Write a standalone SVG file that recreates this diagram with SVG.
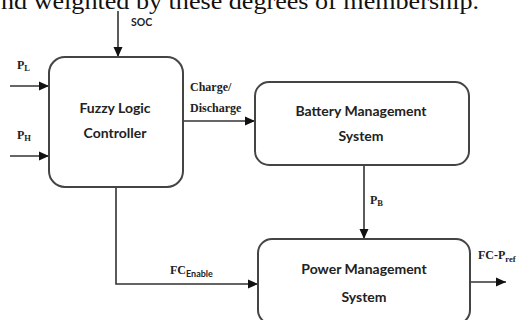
<svg xmlns="http://www.w3.org/2000/svg" width="517" height="320" viewBox="0 0 517 320">
<defs>
<marker id="ah" markerUnits="userSpaceOnUse" markerWidth="10" markerHeight="10" viewBox="0 0 10 10" refX="10" refY="5" orient="auto">
<path d="M0,0.5 L10,5 L0,9.5 Z" fill="#111"/>
</marker>
<style>
.box{fill:#fff;stroke:#444;stroke-width:2}
.con{fill:none;stroke:#333;stroke-width:1.6;marker-end:url(#ah)}
.lbl{font-family:Lato,"Liberation Sans",sans-serif;font-weight:bold;font-size:14px;fill:#222;text-anchor:middle}
.sig{font-family:"Liberation Serif",serif;font-weight:bold;font-size:12px;fill:#222}
.sub{font-family:"Liberation Serif",serif;font-weight:bold;font-size:8.5px;fill:#222}
.subs{font-family:Lato,"Liberation Sans",sans-serif;font-weight:bold;font-size:9px;fill:#222}
.top{font-family:"Liberation Serif",serif;font-size:23px;fill:#111}
</style>
</defs>
<rect width="517" height="320" fill="#fff"/>
<text class="top" x="1" y="9" textLength="478" lengthAdjust="spacingAndGlyphs">nd weighted by these degrees of membership.</text>
<g id="connectors">
<line class="con" x1="118" y1="11" x2="118" y2="57"/>
<line class="con" x1="10" y1="86" x2="49" y2="86"/>
<line class="con" x1="10" y1="156" x2="49" y2="156"/>
<line class="con" x1="183" y1="121" x2="255" y2="121"/>
<line class="con" x1="364" y1="165" x2="364" y2="239"/>
<path class="con" d="M116,187 V284 H258"/>
<line class="con" x1="470" y1="282" x2="506" y2="282"/>
</g>
<g id="labels">
<text x="131" y="26" style="font-family:Lato,'Liberation Sans',sans-serif;font-weight:bold;font-size:10.5px;fill:#222">SOC</text>
<text class="sig" x="17" y="69">P<tspan class="sub" dy="2">L</tspan></text>
<text class="sig" x="17" y="139">P<tspan class="sub" dy="2">H</tspan></text>
<text class="sig" x="190" y="91">Charge/</text>
<text class="sig" x="190" y="112">Discharge</text>
<text class="sig" x="370" y="204">P<tspan class="sub" dy="2">B</tspan></text>
<text class="sig" x="170" y="274">FC<tspan class="subs" dy="3">Enable</tspan></text>
<text class="sig" x="478" y="259">FC-P<tspan class="sub" dy="3">ref</tspan></text>
</g>
<g id="flc">
<rect class="box" x="49" y="57" width="134" height="130" rx="16"/>
<text class="lbl" x="115" y="113">Fuzzy Logic</text>
<text class="lbl" x="115" y="138">Controller</text>
</g>
<g id="bms">
<rect class="box" x="255" y="82" width="214" height="83" rx="14"/>
<text class="lbl" x="361" y="116">Battery Management</text>
<text class="lbl" x="361" y="141">System</text>
</g>
<g id="pms">
<rect class="box" x="258" y="239" width="212" height="85" rx="14"/>
<text class="lbl" x="364" y="274">Power Management</text>
<text class="lbl" x="364" y="302">System</text>
</g>
</svg>
